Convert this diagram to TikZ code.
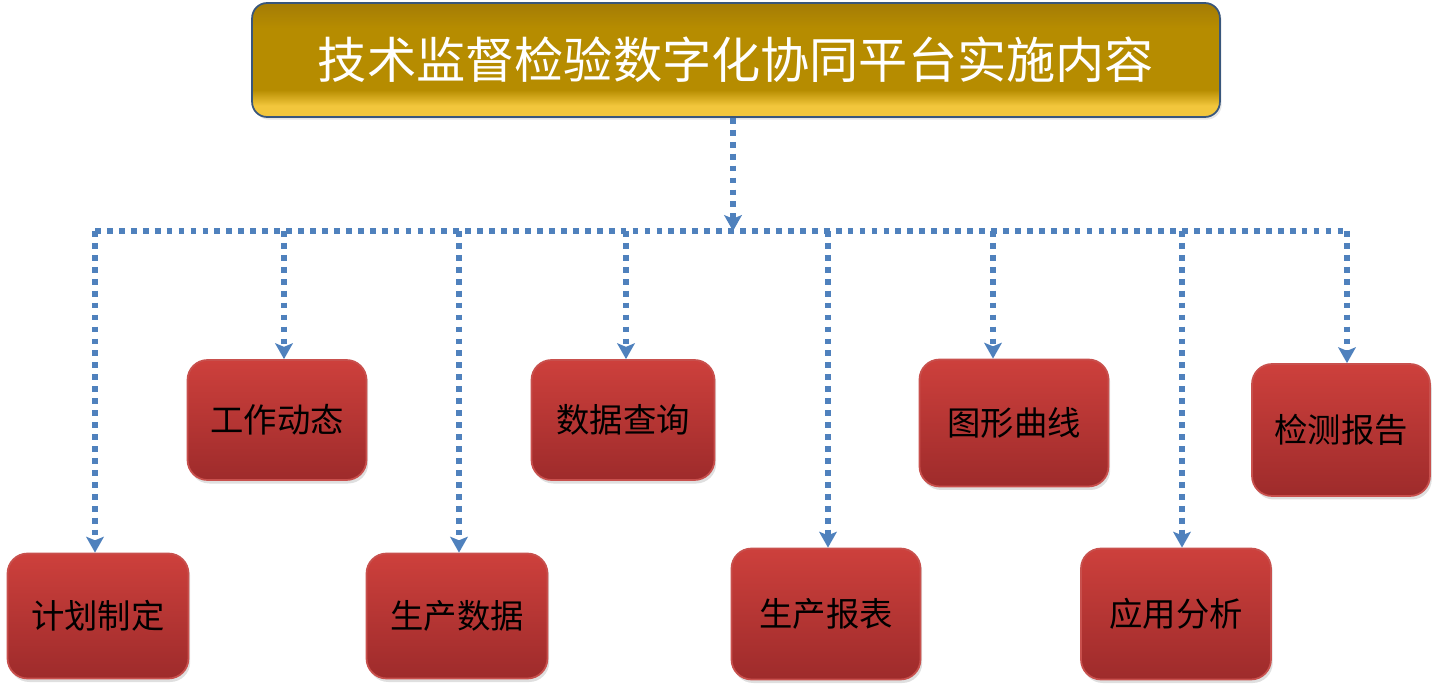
\documentclass[tikz,border=0pt]{standalone}
\usepackage{fontspec}
\newfontfamily\cjk{Noto Sans CJK SC}
\usetikzlibrary{arrows.meta,shadows}

\definecolor{linkblue}{RGB}{79,129,189}
\definecolor{boxtop}{RGB}{205,64,60}
\definecolor{boxbottom}{RGB}{158,43,43}
\definecolor{boxedge}{RGB}{200,80,77}
\definecolor{goldtop}{RGB}{164,124,6}
\definecolor{goldmid}{RGB}{182,140,0}
\definecolor{goldbottom}{RGB}{242,198,60}
\definecolor{titleedge}{RGB}{56,86,124}
\pgfdeclareverticalshading{goldbar}{100bp}{color(0bp)=(goldbottom); color(30bp)=(goldbottom); color(37bp)=(goldmid); color(64bp)=(goldmid); color(75bp)=(goldtop); color(100bp)=(goldtop)}

\begin{document}
\begin{tikzpicture}[x=0.02cm,y=-0.02cm,
	block/.style ={rounded corners=0.4cm, draw=boxedge, line width=1pt, top color=boxtop, bottom color=boxbottom,
		drop shadow={opacity=0.25,shadow xshift=1pt,shadow yshift=-2pt},
		align=center, minimum width=3.62cm, minimum height=2.5cm, font=\cjk\fontsize{19}{21}\selectfont},
	link/.style ={draw=linkblue, line width=2.9pt, dash pattern=on 3.3pt off 3.5pt},
	tip/.style ={-{Stealth[length=9pt,width=10pt,inset=2pt]}}]
		\useasboundingbox (0,0) rectangle (1438,692);
		\node[rounded corners=0.3cm, draw=titleedge, line width=1pt, shading=goldbar,
			drop shadow={opacity=0.2,shadow xshift=1pt,shadow yshift=-1.5pt},
			minimum width=19.36cm, minimum height=2.28cm, text=white, font=\cjk\fontsize{28}{30}\selectfont] (title) at (736,60) {技术监督检验数字化协同平台实施内容};
		\node[block] (n1) at (98,616) {计划制定};
		\node[block, minimum width=3.58cm, minimum height=2.4cm] (n2) at (277,420) {工作动态};
		\node[block] (n3) at (457,616) {生产数据};
		\node[block, minimum width=3.66cm, minimum height=2.4cm] (n4) at (623,420) {数据查询};
		\node[block, minimum width=3.78cm, minimum height=2.62cm] (n5) at (826,614) {生产报表};
		\node[block, minimum width=3.78cm, minimum height=2.54cm] (n6) at (1014,423) {图形曲线};
		\node[block, minimum width=3.8cm, minimum height=2.62cm] (n7) at (1176,614) {应用分析};
		\node[block, minimum width=3.56cm, minimum height=2.64cm] (n8) at (1341,430) {检测报告};
		\coordinate (bus) at (733,231);
		\coordinate (b1) at (95,231);
		\coordinate (b2) at (284,231);
		\coordinate (b3) at (459,231);
		\coordinate (b4) at (626,231);
		\coordinate (b5) at (828,231);
		\coordinate (b6) at (993,231);
		\coordinate (b7) at (1182,231);
		\coordinate (b8) at (1347,231);
		\draw[link,tip] (title.south -| bus)--(bus);
		\draw[link] (b1)--(b8);
		\draw[link,tip] (b1)--(b1 |- n1.north);
		\draw[link,tip] (b2)--(b2 |- n2.north);
		\draw[link,tip] (b3)--(b3 |- n3.north);
		\draw[link,tip] (b4)--(b4 |- n4.north);
		\draw[link,tip] (b5)--(b5 |- n5.north);
		\draw[link,tip] (b6)--(b6 |- n6.north);
		\draw[link,tip] (b7)--(b7 |- n7.north);
		\draw[link,tip] (b8)--(b8 |- n8.north);
	\end{tikzpicture}
\end{document}
